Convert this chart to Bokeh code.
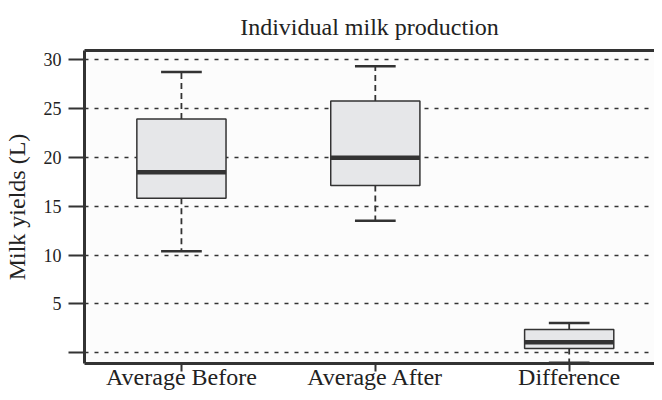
from bokeh.plotting import figure
from bokeh.models import Range1d, FixedTicker, LinearAxis
from bokeh.embed import file_html
from bokeh.resources import INLINE

# ---- data ----
categories = ["Average Before", "Average After", "Difference"]
lower_whisker = [10.4, 13.5, -1.0]
q1 = [15.8, 17.1, 0.45]
median = [18.45, 19.95, 1.1]
q3 = [23.9, 25.75, 2.4]
upper_whisker = [28.7, 29.3, 3.05]
y_ticks = [0, 5, 10, 15, 20, 25, 30]

xs = [i + 1 for i in range(len(categories))]

FONT = "Liberation Serif"
DARK = "#333333"
TXT = "#222222"

p = figure(width=654, height=392, output_backend="svg", toolbar_location=None,
           x_range=Range1d(0.5, 3.44), y_range=Range1d(-1.08, 30.9),
           title="Individual milk production",
           min_border_left=0, min_border_right=0, min_border_top=0, min_border_bottom=0)

p.background_fill_color = "#fcfcfc"
p.border_fill_color = "white"
p.outline_line_color = None

p.title.text_font = FONT
p.title.text_font_size = "24px"
p.title.text_font_style = "normal"
p.title.text_color = TXT
p.title.align = "center"
p.title.offset = 0
p.title.padding = 6

# grid
p.xgrid.grid_line_color = None
p.ygrid.grid_line_color = DARK
p.ygrid.grid_line_width = 1.5
p.ygrid.grid_line_dash = "4 6"
p.ygrid.ticker = FixedTicker(ticks=y_ticks)

# y axis
ya = p.yaxis[0]
ya.ticker = FixedTicker(ticks=y_ticks)
ya.major_label_overrides = {0: ""}
ya.axis_label = "Milk yields (L)"
ya.axis_label_text_font = FONT
ya.axis_label_text_font_size = "24px"
ya.axis_label_text_font_style = "normal"
ya.axis_label_text_color = TXT
ya.axis_label_standoff = 11
ya.major_label_text_font = FONT
ya.major_label_text_font_size = "18px"
ya.major_label_text_color = TXT
ya.major_label_standoff = 7
ya.axis_line_color = DARK
ya.axis_line_width = 3
ya.major_tick_line_color = DARK
ya.major_tick_line_width = 2
ya.major_tick_out = 16
ya.major_tick_in = 0
ya.minor_tick_line_color = None

# x axis
xa = p.xaxis[0]
xa.ticker = FixedTicker(ticks=xs)
xa.major_label_overrides = {x: c for x, c in zip(xs, categories)}
xa.major_label_text_font = FONT
xa.major_label_text_font_size = "24px"
xa.major_label_text_color = TXT
xa.major_label_standoff = -8
xa.axis_line_color = DARK
xa.axis_line_width = 3
xa.major_tick_line_color = DARK
xa.major_tick_line_width = 2
xa.major_tick_out = 8
xa.major_tick_in = 0
xa.minor_tick_line_color = None

# top border as an axis without ticks/labels
top = LinearAxis(axis_line_color=DARK, axis_line_width=3,
                 major_tick_line_color=None, minor_tick_line_color=None,
                 major_label_text_font_size="0px", major_label_text_color=None)
top.ticker = FixedTicker(ticks=[])
p.add_layout(top, "above")

# whiskers (dashed)
p.segment(x0=xs, y0=q3, x1=xs, y1=upper_whisker, line_color=DARK, line_width=1.8, line_dash="6 4")
p.segment(x0=xs, y0=q1, x1=xs, y1=lower_whisker, line_color=DARK, line_width=1.8, line_dash="6 4")
# caps
cap_w = 0.105
p.segment(x0=[x - cap_w for x in xs], y0=upper_whisker, x1=[x + cap_w for x in xs], y1=upper_whisker,
          line_color=DARK, line_width=2.5)
p.segment(x0=[x - cap_w for x in xs], y0=lower_whisker, x1=[x + cap_w for x in xs], y1=lower_whisker,
          line_color=DARK, line_width=2.5)
# boxes
p.vbar(x=xs, bottom=q1, top=q3, width=0.46, fill_color="#e6e7e9", line_color=DARK, line_width=1.5)
# medians
p.segment(x0=[x - 0.23 for x in xs], y0=median, x1=[x + 0.23 for x in xs], y1=median,
          line_color=DARK, line_width=4.5)

open("out.html", "w").write(file_html(p, INLINE))
